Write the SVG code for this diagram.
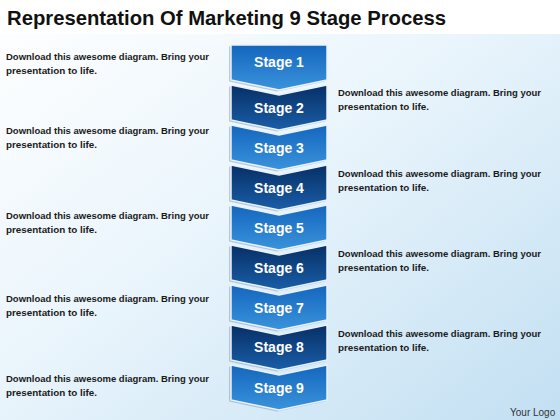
<svg xmlns="http://www.w3.org/2000/svg" width="560" height="420" viewBox="0 0 560 420">
<defs>
<linearGradient id="bg" x1="0" y1="0" x2="1" y2="1">
<stop offset="0" stop-color="#ffffff"/>
<stop offset="0.45" stop-color="#eaf5fc"/>
<stop offset="1" stop-color="#c2dff2"/>
</linearGradient>
<linearGradient id="light" x1="0" y1="0" x2="0" y2="1">
<stop offset="0" stop-color="#1466bd"/>
<stop offset="1" stop-color="#3a93dc"/>
</linearGradient>
<linearGradient id="dark" x1="0" y1="0" x2="0" y2="1">
<stop offset="0" stop-color="#072f66"/>
<stop offset="1" stop-color="#1a5ea8"/>
</linearGradient>
<path id="chev" d="M0,0 L48,10 L96,0 L96,35 L48,45 L0,35 Z"/>
<path id="first" d="M0,0 L96,0 L96,35 L48,45 L0,35 Z"/>
</defs>
<style>
.sh{fill:#8ea3b5;opacity:0.55}
.l{fill:url(#light);stroke:#e8f2fb;stroke-width:1.5}
.d{fill:url(#dark);stroke:#e8f2fb;stroke-width:1.5}
.lab{font-family:"Liberation Sans",Arial,sans-serif;font-weight:bold;font-size:14px;fill:#ffffff;text-anchor:middle}
.desc{font-family:"Liberation Sans",Arial,sans-serif;font-weight:bold;font-size:9.6px;fill:#1a1a1a}
</style>
<rect x="0" y="0" width="560" height="420" fill="url(#bg)"/>
<rect x="0" y="0" width="560" height="34" fill="#ffffff"/>
<text x="7" y="25" font-family="'Liberation Sans',Arial,sans-serif" font-weight="bold" font-size="21" fill="#111111" textLength="439" lengthAdjust="spacingAndGlyphs">Representation Of Marketing 9 Stage Process</text>

<g id="stage1" transform="translate(231,45)"><use href="#first" class="sh" x="-2" y="1.5"/><use href="#first" class="l"/><text class="lab" x="48" y="22">Stage 1</text></g>
<g id="stage2" transform="translate(231,85)"><use href="#chev" class="sh" x="-2" y="1.5"/><use href="#chev" class="d"/><text class="lab" x="48" y="28">Stage 2</text></g>
<g id="stage3" transform="translate(231,125)"><use href="#chev" class="sh" x="-2" y="1.5"/><use href="#chev" class="l"/><text class="lab" x="48" y="28">Stage 3</text></g>
<g id="stage4" transform="translate(231,165)"><use href="#chev" class="sh" x="-2" y="1.5"/><use href="#chev" class="d"/><text class="lab" x="48" y="28">Stage 4</text></g>
<g id="stage5" transform="translate(231,205)"><use href="#chev" class="sh" x="-2" y="1.5"/><use href="#chev" class="l"/><text class="lab" x="48" y="28">Stage 5</text></g>
<g id="stage6" transform="translate(231,245)"><use href="#chev" class="sh" x="-2" y="1.5"/><use href="#chev" class="d"/><text class="lab" x="48" y="28">Stage 6</text></g>
<g id="stage7" transform="translate(231,285)"><use href="#chev" class="sh" x="-2" y="1.5"/><use href="#chev" class="l"/><text class="lab" x="48" y="28">Stage 7</text></g>
<g id="stage8" transform="translate(231,325)"><use href="#chev" class="sh" x="-2" y="1.5"/><use href="#chev" class="d"/><text class="lab" x="48" y="27">Stage 8</text></g>
<g id="stage9" transform="translate(231,365)"><use href="#chev" class="sh" x="-2" y="1.5"/><use href="#chev" class="l"/><text class="lab" x="48" y="28">Stage 9</text></g>

<g id="text1"><text class="desc" x="6" y="60" textLength="203" lengthAdjust="spacingAndGlyphs">Download this awesome diagram. Bring your</text><text class="desc" x="6" y="74" textLength="91" lengthAdjust="spacingAndGlyphs">presentation to life.</text></g>
<g id="text2"><text class="desc" x="338" y="96" textLength="203" lengthAdjust="spacingAndGlyphs">Download this awesome diagram. Bring your</text><text class="desc" x="338" y="110" textLength="91" lengthAdjust="spacingAndGlyphs">presentation to life.</text></g>
<g id="text3"><text class="desc" x="6" y="134" textLength="203" lengthAdjust="spacingAndGlyphs">Download this awesome diagram. Bring your</text><text class="desc" x="6" y="148" textLength="91" lengthAdjust="spacingAndGlyphs">presentation to life.</text></g>
<g id="text4"><text class="desc" x="338" y="177" textLength="203" lengthAdjust="spacingAndGlyphs">Download this awesome diagram. Bring your</text><text class="desc" x="338" y="191" textLength="91" lengthAdjust="spacingAndGlyphs">presentation to life.</text></g>
<g id="text5"><text class="desc" x="6" y="219" textLength="203" lengthAdjust="spacingAndGlyphs">Download this awesome diagram. Bring your</text><text class="desc" x="6" y="233" textLength="91" lengthAdjust="spacingAndGlyphs">presentation to life.</text></g>
<g id="text6"><text class="desc" x="338" y="257" textLength="203" lengthAdjust="spacingAndGlyphs">Download this awesome diagram. Bring your</text><text class="desc" x="338" y="271" textLength="91" lengthAdjust="spacingAndGlyphs">presentation to life.</text></g>
<g id="text7"><text class="desc" x="6" y="302" textLength="203" lengthAdjust="spacingAndGlyphs">Download this awesome diagram. Bring your</text><text class="desc" x="6" y="316" textLength="91" lengthAdjust="spacingAndGlyphs">presentation to life.</text></g>
<g id="text8"><text class="desc" x="338" y="337" textLength="203" lengthAdjust="spacingAndGlyphs">Download this awesome diagram. Bring your</text><text class="desc" x="338" y="351" textLength="91" lengthAdjust="spacingAndGlyphs">presentation to life.</text></g>
<g id="text9"><text class="desc" x="6" y="382" textLength="203" lengthAdjust="spacingAndGlyphs">Download this awesome diagram. Bring your</text><text class="desc" x="6" y="396" textLength="91" lengthAdjust="spacingAndGlyphs">presentation to life.</text></g>

<text x="510" y="416" font-family="'Liberation Sans',Arial,sans-serif" font-size="10" fill="#333333">Your Logo</text>
</svg>
